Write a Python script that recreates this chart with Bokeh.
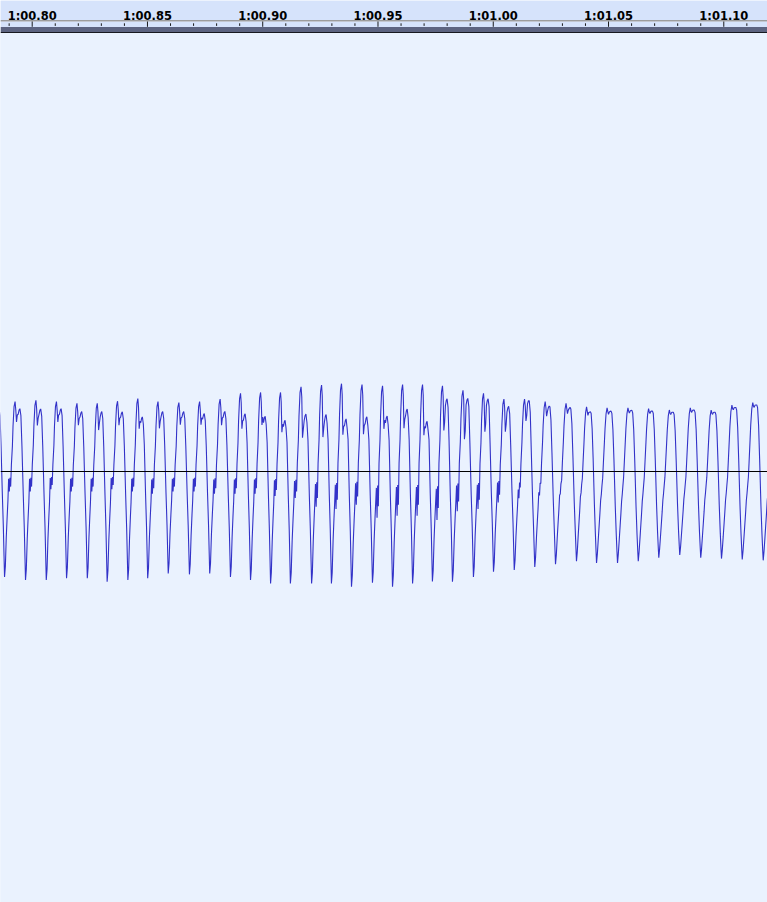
from bokeh.plotting import figure
from bokeh.models import Range1d, BoxAnnotation
from bokeh.embed import file_html
from bokeh.resources import INLINE
from bokeh.core.properties import value

# ---------------- data ----------------
# time (s) of every waveform trough, one per cycle (+ the closing one)
trough_times = [60.7791, 60.7880, 60.7971, 60.8061, 60.8149, 60.8239, 60.8325, 60.8415,
                60.8501, 60.8590, 60.8682, 60.8770, 60.8860, 60.8947, 60.9034, 60.9120,
                60.9212, 60.9298, 60.9385, 60.9476, 60.9563, 60.9650, 60.9736, 60.9823,
                60.9914, 61.0001, 61.0091, 61.0180, 61.0270, 61.0361, 61.0448, 61.0539,
                61.0629, 61.0718, 61.0809, 61.0900, 61.0990, 61.1080, 61.1171, 61.1260]
# amplitude at each trough
trough_vals = [-0.240, -0.240, -0.247, -0.247, -0.243, -0.243, -0.251, -0.247, -0.243,
               -0.232, -0.234, -0.232, -0.240, -0.247, -0.255, -0.255, -0.255, -0.255,
               -0.262, -0.253, -0.262, -0.255, -0.250, -0.251, -0.240, -0.228, -0.224,
               -0.217, -0.211, -0.204, -0.208, -0.208, -0.204, -0.196, -0.190, -0.196,
               -0.198, -0.200, -0.202, -0.200]
# per cycle: top peak amplitude
tops = [0.160, 0.160, 0.163, 0.160, 0.156, 0.156, 0.161, 0.167, 0.160, 0.158, 0.160,
        0.166, 0.179, 0.181, 0.181, 0.194, 0.198, 0.201, 0.199, 0.196, 0.199, 0.199,
        0.196, 0.186, 0.179, 0.166, 0.166, 0.160, 0.156, 0.148, 0.146, 0.146, 0.144,
        0.141, 0.146, 0.141, 0.152, 0.158, 0.163]
# per cycle: notch level between the two top peaks (fraction of top)
notch = [0.70, 0.71, 0.65, 0.71, 0.68, 0.61, 0.66, 0.59, 0.62, 0.68, 0.67, 0.64, 0.55,
         0.59, 0.50, 0.40, 0.40, 0.42, 0.43, 0.50, 0.50, 0.42, 0.48, 0.40, 0.51, 0.55,
         0.60, 0.68, 0.73, 0.73, 0.77, 0.85, 0.88, 0.90, 0.92, 0.92, 0.93, 0.93, 0.93]
# per cycle: second top peak (fraction of top)
second = [0.90, 0.90, 0.88, 0.90, 0.88, 0.88, 0.85, 0.75, 0.86, 0.87, 0.83, 0.83, 0.74,
          0.70, 0.65, 0.68, 0.66, 0.60, 0.63, 0.65, 0.72, 0.58, 0.85, 0.90, 0.93, 0.90,
          1.00, 0.93, 0.92, 0.85, 0.88, 0.92, 0.94, 0.95, 0.95, 0.95, 0.96, 0.96, 0.96]
# per cycle: depth of the small bump just below the zero line
bump = [-0.045, -0.045, -0.045, -0.040, -0.045, -0.045, -0.040, -0.045, -0.050, -0.045,
        -0.045, -0.050, -0.050, -0.050, -0.055, -0.060, -0.080, -0.085, -0.075, -0.105,
        -0.100, -0.100, -0.110, -0.090, -0.085, -0.070, -0.060, -0.050, -0.040, -0.030,
        -0.030, -0.020, -0.020, -0.020, -0.020, -0.020, -0.020, -0.020, -0.020]
# per cycle: how sine-like (smooth) the cycle is
smooth = [0.0, 0.0, 0.0, 0.0, 0.0, 0.0, 0.0, 0.0, 0.0, 0.0, 0.0, 0.0, 0.0, 0.0, 0.0,
          0.0, 0.0, 0.0, 0.0, 0.0, 0.0, 0.0, 0.0, 0.0, 0.0, 0.0, 0.30, 0.45, 0.60, 0.70,
          0.80, 0.85, 0.85, 0.85, 0.85, 0.85, 0.85, 0.85, 0.85]

# one-cycle shape (phase in px of a 20.5 px period)
PERIOD_PX = 20.5
shape_phase = [0.0, 0.8, 1.7, 2.6, 3.3, 4.0, 4.7, 5.3, 6.0, 6.7, 7.7, 8.3, 9.3, 10.3,
               11.0, 11.7, 12.5, 13.3, 14.2, 15.0, 16.0, 17.0, 18.3, 19.3, 20.0]
shape_kind = ["B", "B", "B", "B", "B", "P", "P", "P", "P", "T", "T", "T", "T", "T",
              "T", "N", "N", "S", "S", "S", "S", "T", "B", "B", "B"]
shape_fac = [1.0, 0.9, 0.62, 0.42, 0.28, 0.35, 1.0, 0.3, 0.75, 0.1, 0.37, 0.65, 0.93,
             1.0, 0.88, 0.0, 0.1, -0.08, -0.02, 0.0, -0.1, 0.37, 0.21, 0.52, 0.8]
smooth_shape = [-1.0, -0.9, -0.77, -0.62, -0.5, -0.38, -0.27, -0.18, -0.06, 0.15, 0.49,
                0.68, 0.9, 1.0, 0.96, 0.93, 0.95, 0.98, 0.97, 0.92, 0.63, 0.15, -0.42,
                -0.74, -0.9]

# ruler ticks
major_ticks = [60.80, 60.85, 60.90, 60.95, 61.00, 61.05, 61.10]
major_labels = ["1:00.80", "1:00.85", "1:00.90", "1:00.95", "1:01.00", "1:01.05", "1:01.10"]
minor_ticks = [60.79, 60.81, 60.82, 60.83, 60.84, 60.86, 60.87, 60.88, 60.89, 60.91,
               60.92, 60.93, 60.94, 60.96, 60.97, 60.98, 60.99, 61.01, 61.02, 61.03,
               61.04, 61.06, 61.07, 61.08, 61.09, 61.11]

X_START, X_END = 60.78625, 61.11896

# ---------------- build waveform polyline ----------------
xs, ys = [], []
for i in range(len(tops)):
    t0, t1 = trough_times[i], trough_times[i + 1]
    b0, b1 = trough_vals[i], trough_vals[i + 1]
    T = tops[i]
    w = smooth[i]
    for ph, kd, f, sv in zip(shape_phase, shape_kind, shape_fac, smooth_shape):
        B = b0 if ph < 10 else b1
        if kd == "B":
            r = f * B
        elif kd == "T":
            r = f * T
        elif kd == "P":
            r = f * bump[i]
        elif kd == "N":
            r = (notch[i] + f) * T
        else:
            r = (second[i] + f) * T
        s = sv * T if sv > 0 else sv * abs(B)
        xs.append(t0 + (t1 - t0) * ph / PERIOD_PX)
        ys.append((1 - w) * r + w * s)
xs.append(trough_times[-1])
ys.append(trough_vals[-1])

# ---------------- single figure: track + ruler ----------------
W, H = 767, 902
p = figure(width=W, height=H,
           x_range=Range1d(X_START, X_END),
           y_range=Range1d(-0.9827, 1.0753),
           output_backend="svg", toolbar_location=None, min_border=0,
           x_axis_location=None, y_axis_location=None)
p.extra_y_ranges = {"px": Range1d(H, 0)}
p.extra_x_ranges = {"pxx": Range1d(0, W)}
p.grid.visible = False
p.outline_line_color = None
p.background_fill_color = "#eaf2fe"
p.border_fill_color = "#eaf2fe"

# cover the frame's left edge of the track area with the track colour
p.add_layout(BoxAnnotation(left=-2, right=1.6, top=32.5, bottom=H + 2,
                           x_range_name="pxx", y_range_name="px",
                           fill_color="#eaf2fe", fill_alpha=1.0, line_color=None,
                           level="underlay"))

# waveform
p.line(xs, ys, line_color="#3232c8", line_width=1.1)
p.hspan(y=[0], line_color="black", line_width=1)

# ruler (pixel coordinate range "px", 0 at the top)
p.add_layout(BoxAnnotation(top=0, bottom=26.6, y_range_name="px", fill_color="#d6e3fb",
                           fill_alpha=1.0, line_color=None, level="underlay"))
p.hspan(y=[19.5], line_color="#9c9c9c", line_width=1, y_range_name="px")
p.hspan(y=[20.5], line_color="#c2c6cf", line_width=1, y_range_name="px")
p.segment(x0=major_ticks, y0=[21.0] * len(major_ticks), x1=major_ticks,
          y1=[26.3] * len(major_ticks), line_color="#1a1a1a", line_width=1,
          y_range_name="px")
p.segment(x0=minor_ticks, y0=[22.8] * len(minor_ticks), x1=minor_ticks,
          y1=[25.4] * len(minor_ticks), line_color="#1a1a1a", line_width=1,
          y_range_name="px")
p.add_layout(BoxAnnotation(top=26.6, bottom=31.8, y_range_name="px", fill_color="#5d6481",
                           fill_alpha=1.0, line_color=None))
p.hspan(y=[32.2], line_color="black", line_width=1, y_range_name="px")
p.text(x=major_ticks, y=[15.4] * len(major_ticks), text=major_labels,
       text_font=value("DejaVu Sans"), text_font_style="bold",
       text_font_size="11.5px", text_align="center", text_baseline="alphabetic",
       text_color="black", y_range_name="px")

open("out.html", "w").write(file_html(p, INLINE))
